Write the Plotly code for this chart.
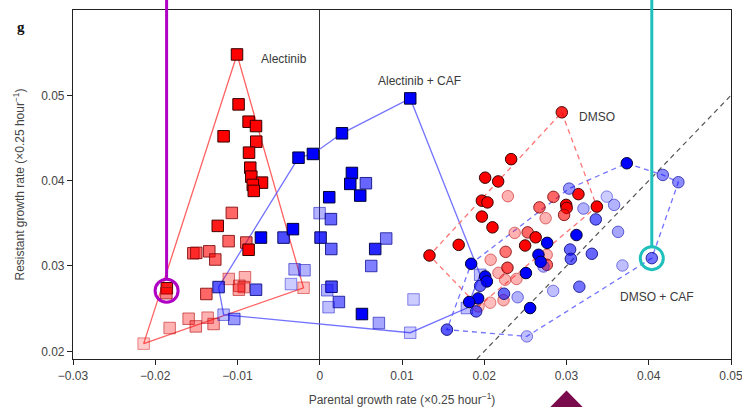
import plotly.graph_objects as go

# Alectinib (red squares)
alec_x = [-0.01006, -0.00987, -0.00865, -0.00775, -0.01169, -0.00772, -0.00860, -0.00845,
          -0.00832, -0.00702, -0.00814, -0.00802, -0.01069, -0.01240, -0.01108, -0.00893,
          -0.00865, -0.01537, -0.01501, -0.01343, -0.01270, -0.01859, -0.01865, -0.01379,
          -0.01106, -0.00909, -0.00978, -0.00924, -0.00984, -0.00197, -0.01594, -0.01363,
          -0.01507, -0.01291, -0.01825, -0.02141]
alec_y = [0.05479, 0.04894, 0.04691, 0.04640, 0.04520, 0.04457, 0.04328, 0.04152,
          0.04047, 0.03977, 0.03950, 0.03880, 0.03622, 0.03470, 0.03291, 0.03275,
          0.03190, 0.03149, 0.03154, 0.03172, 0.03076, 0.02739, 0.02681, 0.02672,
          0.02848, 0.02868, 0.02768, 0.02753, 0.02722, 0.02745, 0.02382, 0.02394,
          0.02292, 0.02320, 0.02273, 0.02090]
alec_shade = [1, 1, 1, 1, 1, 0.95, 1, 1,
              1, 1, 1, 1, 0.6, 0.9, 0.6, 0.6,
              1, 0.6, 0.6, 0.6, 0.6, 0.9, 0.5, 0.6,
              0.3, 0.3, 0.35, 0.35, 0.35, 0.25, 0.35, 0.3,
              0.35, 0.35, 0.3, 0.2]
alec_outline = [0, 29, 35]

# Alectinib + CAF (blue squares)
alcaf_x = [-0.00258, -0.00083, 0.00270, 0.01100, 0.00391, 0.00371, 0.00561, 0.00492,
           0.00115, -0.00002, 0.00136, 0.00010, 0.00140, 0.00808, 0.00674, 0.00626,
           0.00143, 0.00091, 0.00233, 0.00107, 0.00513, 0.00719, 0.01140, 0.01100,
           -0.00306, -0.00185, -0.00350, -0.00715, -0.00440, -0.00326, -0.01230, -0.00775,
           -0.01169, -0.01039, 0.01950, 0.01789]
alcaf_y = [0.04269, 0.04313, 0.04555, 0.04964, 0.04090, 0.03962, 0.03970, 0.03825,
           0.03806, 0.03619, 0.03549, 0.03333, 0.03199, 0.03322, 0.03199, 0.03000,
           0.02757, 0.02716, 0.02578, 0.02517, 0.02437, 0.02332, 0.02608, 0.02218,
           0.02961, 0.02950, 0.02788, 0.03333, 0.03333, 0.03432, 0.02753, 0.02722,
           0.02429, 0.02379, 0.02897, 0.02507]
alcaf_shade = [1, 1, 1, 1, 1, 1, 0.6, 1,
               1, 0.3, 0.6, 0.8, 0.6, 0.5, 0.85, 0.5,
               0.7, 0.3, 0.55, 0.25, 1, 0.35, 0.2, 0.2,
               0.3, 0.3, 0.2, 1, 0.7, 1, 0.65, 0.6,
               0.25, 0.4, 0.25, 0.25]
alcaf_outline = [0, 1, 2, 3, 34, 35, 23, 32, 30]

# DMSO (red circles)
dmso_x = [0.02943, 0.02327, 0.02011, 0.02169, 0.01971, 0.02039, 0.01971, 0.02100,
          0.01689, 0.01334, 0.02287, 0.02671, 0.02746, 0.02370, 0.02528, 0.02625,
          0.02497, 0.02260, 0.02078, 0.02282, 0.02173, 0.02254, 0.02392, 0.02841,
          0.03145, 0.02996, 0.03002, 0.02971, 0.03369, 0.02759, 0.02761, 0.01930,
          0.02234, 0.02072]
dmso_y = [0.04801, 0.04252, 0.04035, 0.03991, 0.03766, 0.03745, 0.03579, 0.03453,
          0.03248, 0.03123, 0.03818, 0.03687, 0.03560, 0.03388, 0.03394, 0.03336,
          0.03240, 0.03166, 0.03073, 0.02979, 0.02920, 0.02839, 0.02848, 0.03810,
          0.03842, 0.03716, 0.03681, 0.03599, 0.03696, 0.03131, 0.03014, 0.02526,
          0.02599, 0.02570]
dmso_shade = [0.85, 1, 1, 1, 1, 1, 1, 1,
              1, 1, 0.3, 0.6, 0.3, 0.3, 0.6, 1,
              1, 0.55, 0.3, 0.7, 0.3, 0.3, 0.3, 0.6,
              0.95, 1, 0.9, 0.6, 1, 0.3, 0.6, 0.25,
              0.3, 0.25]
dmso_outline = [0, 28, 31, 9]

# DMSO + CAF (blue circles)
dcaf_x = [0.03733, 0.04171, 0.04360, 0.04037, 0.02518, 0.01546, 0.01841, 0.03032,
          0.02011, 0.02032, 0.01950, 0.01926, 0.01817, 0.01902, 0.02240, 0.02406,
          0.02507, 0.02558, 0.02765, 0.02659, 0.02686, 0.02720, 0.02838, 0.03121,
          0.03044, 0.03053, 0.03156, 0.03308, 0.03356, 0.03206, 0.03490, 0.03579,
          0.03627, 0.03680]
dcaf_y = [0.04204, 0.04067, 0.03982, 0.03092, 0.02175, 0.02254, 0.03026, 0.03907,
          0.02877, 0.02819, 0.02768, 0.02620, 0.02578, 0.02468, 0.02675, 0.02634,
          0.02917, 0.02507, 0.03271, 0.03131, 0.03049, 0.02994, 0.02708, 0.03363,
          0.03193, 0.03084, 0.02757, 0.03143, 0.03546, 0.03673, 0.03813, 0.03716,
          0.03400, 0.03006]
dcaf_shade = [1, 0.45, 0.45, 0.55, 0.25, 0.65, 1, 0.4,
              1, 1, 0.6, 1, 1, 0.6, 0.6, 0.3,
              1, 1, 1, 1, 1, 0.3, 0.25, 1,
              0.6, 0.6, 0.55, 0.6, 0.6, 0.3, 0.2, 0.3,
              0.35, 0.25]
dcaf_outline = [0, 1, 2, 3, 4, 5, 6, 7]

group_labels = ["Alectinib", "Alectinib + CAF", "DMSO", "DMSO + CAF"]
label_x = [-0.00431, 0.01209, 0.03365, 0.04101]
label_y = [0.05424, 0.05167, 0.04746, 0.02640]

# highlighted clones: (x, y)
pick_magenta = (-0.01862, 0.02710)
pick_teal = (0.04037, 0.03092)

x_ticks = [-0.03, -0.02, -0.01, 0, 0.01, 0.02, 0.03, 0.04, 0.05]
x_tick_text = ["\u22120.03", "\u22120.02", "\u22120.01", "0", "0.01", "0.02", "0.03", "0.04", "0.05"]
y_ticks = [0.02, 0.03, 0.04, 0.05]
y_tick_text = ["0.02", "0.03", "0.04", "0.05"]

X_RANGE = [-0.03, 0.05]
Y_RANGE = [0.0191, 0.0600]

RED = (255, 0, 0)
BLUE = (0, 0, 255)


def fill_colors(rgb, shades):
    return [f"rgba({rgb[0]},{rgb[1]},{rgb[2]},{a})" for a in shades]


def edge_colors(rgb, shades):
    dark = tuple(int(c * 0.2) for c in rgb)
    mid = tuple(min(255, int(c * 0.86 + 40)) if c else 40 for c in rgb)
    out = []
    for a in shades:
        t = 1 - a
        c = [int(dark[i] + (mid[i] - dark[i]) * t) for i in range(3)]
        out.append(f"rgba({c[0]},{c[1]},{c[2]},{min(1, a + 0.3):.2f})")
    return out


def outline_trace(xs, ys, idx, color, dash):
    ox = [xs[i] for i in idx] + [xs[idx[0]]]
    oy = [ys[i] for i in idx] + [ys[idx[0]]]
    return go.Scatter(x=ox, y=oy, mode="lines", hoverinfo="skip",
                      line=dict(color=color, width=1.3, dash=dash), showlegend=False)


def point_trace(xs, ys, shades, rgb, symbol):
    return go.Scatter(
        x=xs, y=ys, mode="markers", showlegend=False,
        marker=dict(symbol=symbol, size=11.5, color=fill_colors(rgb, shades),
                    line=dict(color=edge_colors(rgb, shades), width=1)))


fig = go.Figure()

# identity line
fig.add_trace(go.Scatter(x=[Y_RANGE[0], X_RANGE[1]], y=[Y_RANGE[0], X_RANGE[1]],
                         mode="lines", hoverinfo="skip", showlegend=False,
                         line=dict(color="#555555", width=1.2, dash="5px,4px")))

fig.add_trace(outline_trace(alec_x, alec_y, alec_outline, "rgba(255,70,70,0.85)", "solid"))
fig.add_trace(outline_trace(alcaf_x, alcaf_y, alcaf_outline, "rgba(90,90,255,0.85)", "solid"))
fig.add_trace(outline_trace(dmso_x, dmso_y, dmso_outline, "rgba(255,90,90,0.85)", "5px,4px"))
fig.add_trace(outline_trace(dcaf_x, dcaf_y, dcaf_outline, "rgba(90,90,255,0.85)", "5px,4px"))

fig.add_trace(point_trace(alec_x, alec_y, alec_shade, RED, "square"))
fig.add_trace(point_trace(alcaf_x, alcaf_y, alcaf_shade, BLUE, "square"))
fig.add_trace(point_trace(dmso_x, dmso_y, dmso_shade, RED, "circle"))
fig.add_trace(point_trace(dcaf_x, dcaf_y, dcaf_shade, BLUE, "circle"))

for txt, lx, ly in zip(group_labels, label_x, label_y):
    fig.add_annotation(x=lx, y=ly, text=txt, showarrow=False,
                       font=dict(family="Liberation Sans, Arial, sans-serif", size=12, color="#3a3a3a"))

# panel letter
fig.add_annotation(xref="paper", yref="paper", x=-0.088, y=0.979, text="<b>g</b>",
                   showarrow=False, font=dict(family="Liberation Serif, serif", size=15, color="#111"))

PLOT_W = 742 - 73 - 11
PLOT_H = 407 - 10 - 48
R_PX = 11.5


def to_paper_x(v):
    return (v - X_RANGE[0]) / (X_RANGE[1] - X_RANGE[0])


def to_paper_y(v):
    return (v - Y_RANGE[0]) / (Y_RANGE[1] - Y_RANGE[0])


for (cx, cy), col in [(pick_magenta, "#b000c4"), (pick_teal, "#1fbfbc")]:
    fig.add_shape(type="circle", xref="x", yref="y", xsizemode="pixel", ysizemode="pixel",
                  xanchor=cx, yanchor=cy, x0=-R_PX, x1=R_PX, y0=-R_PX, y1=R_PX,
                  line=dict(color=col, width=3))
    px_ = to_paper_x(cx)
    fig.add_shape(type="line", xref="paper", yref="paper",
                  x0=px_, x1=px_, y0=to_paper_y(cy) + R_PX / PLOT_H, y1=1 + 14 / PLOT_H,
                  line=dict(color=col, width=3))

# pointer marker below the x axis
tip_x = to_paper_x(0.03)
fig.add_shape(type="path", xref="paper", yref="paper",
              path=(f"M {tip_x},{-31.5 / PLOT_H} L {tip_x - 22 / PLOT_W},{-54 / PLOT_H} "
                    f"L {tip_x + 22 / PLOT_W},{-54 / PLOT_H} Z"),
              fillcolor="#7a0b4c", line=dict(width=0))

axis_font = dict(family="Liberation Sans, Arial, sans-serif", size=12, color="#444444")
common = dict(showline=True, mirror=True, linecolor="#222222", linewidth=1.2,
              ticks="outside", ticklen=5, tickwidth=1.2, tickcolor="#222222",
              showgrid=False, tickfont=axis_font, automargin=False,
              ticklabeloverflow="allow")

fig.update_xaxes(range=X_RANGE, tickvals=x_ticks, ticktext=x_tick_text,
                 zeroline=True, zerolinecolor="#333333", zerolinewidth=1.3,
                 title=dict(text="Parental growth rate (\u00d70.25 hour<sup>\u22121</sup>)",
                            font=axis_font, standoff=15),
                 **common)
fig.update_yaxes(range=Y_RANGE, tickvals=y_ticks, ticktext=y_tick_text,
                 zeroline=False,
                 title=dict(text="Resistant growth rate (\u00d70.25 hour<sup>\u22121</sup>)",
                            font=axis_font, standoff=13),
                 **common)

fig.update_layout(width=742, height=407, margin=dict(l=73, r=11, t=10, b=48, autoexpand=False),
                  paper_bgcolor="white", plot_bgcolor="white", showlegend=False)

fig.write_html("out.html")
